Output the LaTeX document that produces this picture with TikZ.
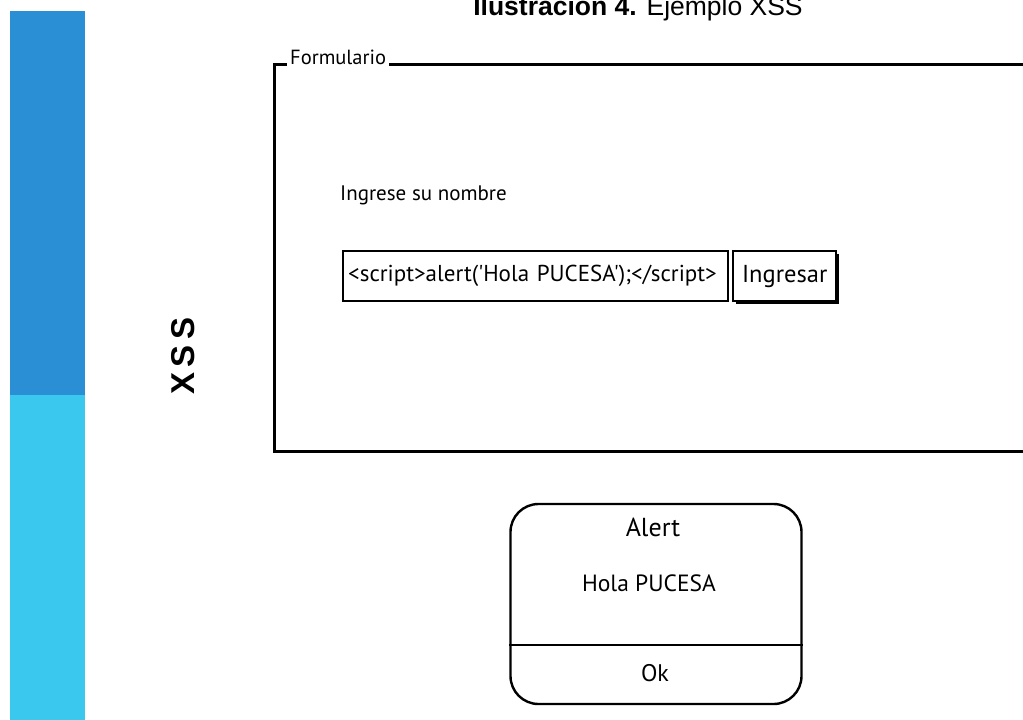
\documentclass[tikz,border=0pt]{standalone}
\usepackage{fontspec}
\setmainfont{Liberation Sans}
\newfontfamily\mockfont{PT Sans}
\usetikzlibrary{shadows}
\definecolor{barblue}{RGB}{43,143,214}
\definecolor{barcyan}{RGB}{58,200,238}

\begin{document}
\begin{tikzpicture}
[
    x=1pt, y=-1pt,
    mock/.style={font=\mockfont\fontsize{#1}{#1}\selectfont, inner sep=0pt},
    mock/.default=23,
    field/.style={draw, line width=2.4pt, rectangle, anchor=north west,
        minimum height=50pt, inner sep=0pt},
    legend/.style={mock=20.5, fill=white, inner xsep=3pt, inner ysep=2pt}
]
    \useasboundingbox (0,0) rectangle (1023,720);
    \clip (0,0) rectangle (1023,720);

    % side bar
    \fill [barblue] (10,11) rectangle (85,395);
    \fill [barcyan] (10,395) rectangle (85,720);
    \node (side) [rotate=90, font=\bfseries\fontsize{33}{36}\selectfont]
        at (183,356) {X\hspace{5pt}S\hspace{5pt}S};

    \node (title) [anchor=base, font=\fontsize{26.5}{30}\selectfont]
        at (638,15) {\textbf{Ilustración 4.} Ejemplo XSS};

    \begin{scope}
        \node (form) [draw, line width=3pt, anchor=north west,
            minimum width=780pt, minimum height=387pt] at (273,63) {};
        \node (formlabel) [legend, anchor=west] at (287,57) {Formulario};
        \node (prompt) [mock=21, anchor=west] at (340,195) {Ingrese su nombre};
        \node (input) [field, minimum width=385pt, mock=23, text width=375pt,
            align=left, inner xsep=5pt] at (342,250)
            {<script>alert('Hola PUCESA');</script>};
        \node (send) [field, minimum width=103pt, mock=24.5, fill=white,
            drop shadow={opacity=1, fill=black, shadow xshift=2.5pt, shadow yshift=-2.5pt}]
            at (732,250) {Ingresar};
    \end{scope}

    \begin{scope}
        \node (alert) [draw, line width=2.4pt, rounded corners=28pt,
            minimum width=291pt, minimum height=200pt] at (656,604) {};
        \draw [line width=2.2pt] ([yshift=-41pt]alert.west) -- ([yshift=-41pt]alert.east);
        \node (alerttitle) [mock=26] at (653,527) {Alert};
        \node (alertmsg) [mock=23.5] at (649,583) {Hola PUCESA};
        \node (ok) [mock=24] at (655,673) {Ok};
    \end{scope}
\end{tikzpicture}
\end{document}
